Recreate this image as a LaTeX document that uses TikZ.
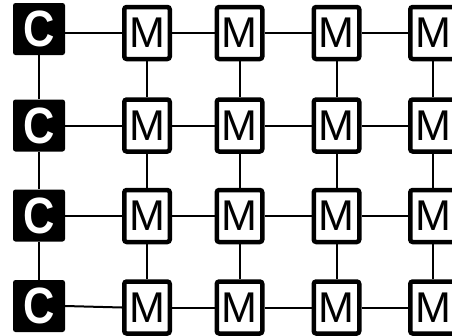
\documentclass[tikz,border=0pt]{standalone}
\usepackage{fontspec}
\setmainfont{Liberation Sans}
\begin{document}
\begin{tikzpicture}[x=1pt,y=-1pt,
  mbox/.style={draw=black, fill=white, line width=4.5pt, rounded corners=2.5pt,
    minimum width=45.5pt, minimum height=52pt, inner sep=0pt,
    font=\fontsize{43}{43}\selectfont},
  cbox/.style={fill=black, rounded corners=2.5pt, minimum width=52pt, minimum height=52pt,
    inner sep=0pt, text=white, font=\fontsize{51}{51}\selectfont\bfseries},
  link/.style={line width=2pt}]
\useasboundingbox (0,0) rectangle (452,335);
% controllers
\node[cbox] (C1) at (39,29) {\scalebox{0.85}[1]{C}};
\node[cbox] (C2) at (39,125.5) {\scalebox{0.85}[1]{C}};
\node[cbox] (C3) at (39,215.5) {\scalebox{0.85}[1]{C}};
\node[cbox] (C4) at (39,306) {\scalebox{0.85}[1]{C}};
% memory nodes
\foreach \r/\y in {1/33,2/125.5,3/216,4/307.5}{
  \foreach \c/\x in {1/147,2/239.5,3/336.5,4/433}{
    \node[mbox] (M\r\c) at (\x,\y) {M};
  }
}
% links
\draw[link] (C1) -- (C2);
\draw[link] (C2) -- (C3);
\draw[link] (C3) -- (C4);
\foreach \r in {1,2,3}{
  \draw[link] (C\r.east |- M\r1.west) -- (M\r1.west);
}
\draw[link] (C4.east) -- (M41.west);
\foreach \r in {1,2,3,4}{
  \draw[link] (M\r1) -- (M\r2);
  \draw[link] (M\r2) -- (M\r3);
  \draw[link] (M\r3) -- (M\r4);
}
\foreach \c in {1,2,3,4}{
  \draw[link] (M1\c) -- (M2\c);
  \draw[link] (M2\c) -- (M3\c);
  \draw[link] (M3\c) -- (M4\c);
}
\end{tikzpicture}
\end{document}
